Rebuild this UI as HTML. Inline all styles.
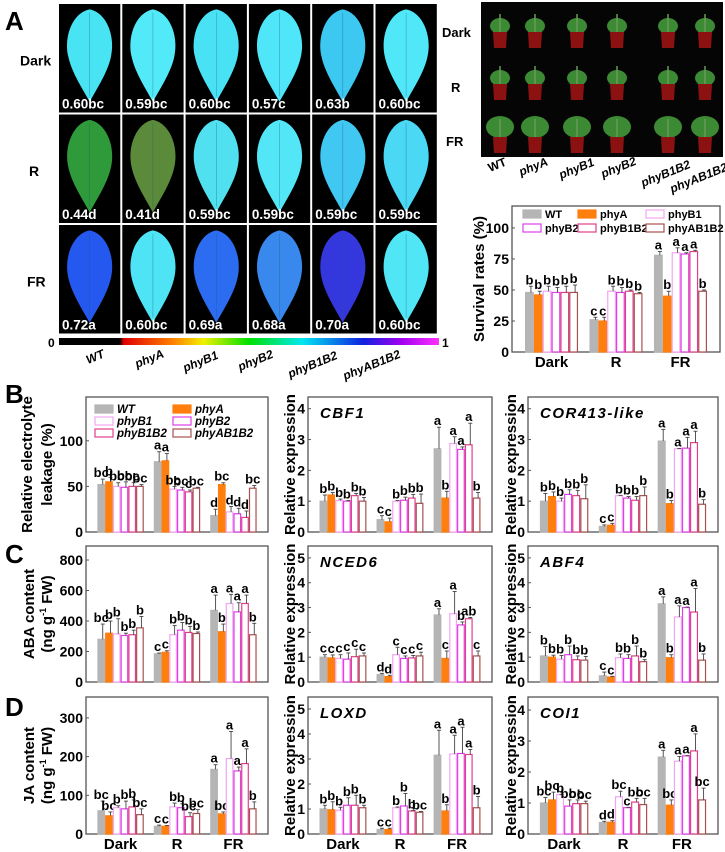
<!DOCTYPE html>
<html><head><meta charset="utf-8"><style>
html,body{margin:0;padding:0;background:#fff;}
svg{display:block;font-family:"Liberation Sans",Arial,sans-serif;}
</style></head><body>
<svg id="fig" width="725" height="852" viewBox="0 0 725 852" xmlns="http://www.w3.org/2000/svg">
<defs>
<linearGradient id="cbar" x1="0" x2="1" y1="0" y2="0">
<stop offset="0" stop-color="#000"/><stop offset="0.16" stop-color="#000"/><stop offset="0.17" stop-color="#e00000"/>
<stop offset="0.3" stop-color="#ff8000"/><stop offset="0.38" stop-color="#f0f000"/><stop offset="0.5" stop-color="#00e000"/>
<stop offset="0.64" stop-color="#00e8f0"/><stop offset="0.8" stop-color="#1020e0"/><stop offset="0.9" stop-color="#a000f0"/><stop offset="1" stop-color="#ff30ff"/>
</linearGradient>
</defs>
<g id="layer"></g>
</svg>
<script>
// ---- data ----
const genotypes = ["WT","phyA","phyB1","phyB2","phyB1B2","phyAB1B2"];
const conditions = ["Dark","R","FR"];
const fvfmLabels = [["0.60bc","0.59bc","0.60bc","0.57c","0.63b","0.60bc"],["0.44d","0.41d","0.59bc","0.59bc","0.59bc","0.59bc"],["0.72a","0.60bc","0.69a","0.68a","0.70a","0.60bc"]];
const leafColors = [["#48e4f4","#52eaf8","#48e2f4","#4ee6f8","#3cc8f0","#50e8f8"],["#2f9a3a","#5a8a3a","#50e0f0","#52e6f6","#40c8f2","#4ad8f4"],["#2458ee","#4ee4f6","#2c6cf0","#3888ee","#3438dc","#50e6f6"]];

const survVals=[[48,46,49,48,48,48],[26,25,49,48,49,47],[78,45,80,79,81,49]];
const survErr=[[5,3,4,4,5,6],[2,3,4,4,1,1],[3,4,4,1,1,1]];
const survLet=[["b","b","b","b","b","b"],["c","c","b","b","b","b"],["a","b","a","a","a","b"]];
const survTicks=[0,25,50,75,100];

const leakVals=[[52,55,50,49,50,50],[77,78,47,46,44,48],[18,52,22,20,16,48]];
const leakErr=[[6,5,4,6,4,2],[11,8,3,3,2,1],[7,2,6,6,7,3]];
const leakLet=[["bc","b","bc","bc","bc","bc"],["a","a","bc","bc","c","bc"],["d","bc","d","d","d","bc"]];
const leakTicks=[0,50,100];

const cbfVals=[[1,1.2,1.02,1,1.18,1],[0.4,0.33,1,1.03,1.1,0.93],[2.7,1.1,2.87,2.68,2.83,1.1]];
const cbfErr=[[0.2,0.08,0.05,0.02,0.07,0.12],[0.13,0.12,0.02,0.1,0.12,0.3],[0.7,0.22,0.22,0.08,0.7,0.18]];
const cbfLet=[["b","b","b","b","b","b"],["c","c","b","b","b","b"],["a","b","a","a","a","b"]];

const corVals=[[1,1.15,1,1.22,1.18,1.08],[0.18,0.22,1.18,1.1,1.03,1.18],[2.95,0.92,2.7,2.72,2.9,0.9]];
const corErr=[[0.25,0.15,0.1,0.15,0.17,0.45],[0.05,0.06,0.01,0.05,0.12,0.28],[0.38,0.1,0.01,0.35,0.37,0.15]];
const corLet=[["b","b","b","b","b","b"],["c","c","b","b","b","b"],["a","b","a","a","a","b"]];
const expr4Ticks=[0,1,2,3,4];

const abaVals=[[280,320,315,305,310,355],[185,195,310,340,325,318],[470,330,515,460,515,310]];
const abaErr=[[100,80,100,15,30,75],[5,10,60,50,40,10],[100,50,60,60,55,75]];
const abaLet=[["bc","b","b","b","b","b"],["c","c","b","b","b","b"],["a","b","a","a","a","b"]];
const abaTicks=[0,200,400,600,800];

const ncedVals=[[1,0.97,0.95,0.92,1.02,1.05],[0.3,0.22,1.1,0.95,0.97,1.05],[2.7,0.95,2.75,2.3,2.55,1.05]];
const ncedErr=[[0.1,0.12,0.15,0.25,0.3,0.12],[0.05,0.05,0.3,0.1,0.1,0.15],[0.25,0.3,0.9,0.12,0.05,0.2]];
const ncedLet=[["c","c","c","c","c","c"],["d","d","c","c","c","c"],["a","c","a","b","ab","c"]];
const expr5Ticks=[0,1,2,3,4,5];

const abfVals=[[1.05,1,0.92,1.1,0.9,0.88],[0.25,0.2,0.98,0.95,1.05,0.82],[3.15,0.98,2.62,3,2.82,0.88]];
const abfErr=[[0.38,0.08,0.15,0.35,0.15,0.15],[0.15,0.03,0.15,0.15,0.4,0.08],[0.28,0.12,0.45,0.02,0.95,0.25]];
const abfLet=[["b","b","b","b","b","b"],["c","c","b","b","b","b"],["a","b","a","a","a","b"]];

const jaVals=[[60,47,68,65,70,50],[20,20,70,68,45,53],[167,52,195,163,182,65]];
const jaErr=[[25,10,5,20,18,15],[3,2,10,10,10,10],[12,5,70,10,38,18]];
const jaLet=[["bc","bc","b","b","b","bc"],["c","c","b","b","bc","bc"],["a","bc","a","a","a","b"]];
const jaTicks=[0,100,200,300];

const loxVals=[[1,0.97,0.95,1.15,1.15,1.05],[0.18,0.18,1.05,1.12,0.92,0.87],[3.15,0.92,3.2,3.22,3.18,1.05]];
const loxErr=[[0.15,0.32,0.12,0.3,0.4,0.1],[0.05,0.05,0.03,0.5,0.02,0.03],[1,0.25,0.75,1.05,0.2,0.45]];
const loxLet=[["b","b","b","b","b","b"],["c","c","b","b","b","bc"],["a","b","a","a","a","b"]];

const coiVals=[[1,1.1,1.27,0.9,0.98,0.98],[0.37,0.38,1.2,0.85,1.03,0.95],[2.48,0.93,2.35,2.52,2.68,1.1]];
const coiErr=[[0.18,0.25,0.01,0.2,0.12,0.08],[0.04,0.05,0.18,0.01,0.12,0.2],[0.22,0.17,0.15,0.01,0.55,0.38]];
const coiLet=[["bc","bc","b","bc","bc","bc"],["d","d","bc","c","bc","bc"],["a","bc","a","a","a","bc"]];

// ---- drawing ----
const NS="http://www.w3.org/2000/svg";
const root=document.getElementById("layer");
function el(tag,attrs,parent,txt){const e=document.createElementNS(NS,tag);for(const k in attrs)e.setAttribute(k,attrs[k]);if(txt!==undefined)e.textContent=txt;(parent||root).appendChild(e);return e;}
const fills=["#b5b5b5","#ff7f0e","#fff","#fff","#fff","#fff"];
const strokes=["#b5b5b5","#ff7f0e","#f2a6f2","#e040e8","#e0408a","#a85050"];

[["A",5,30],["B",5,403],["C",5,563],["D",5,716]].forEach(p=>{const t=el("text",{x:p[1],y:p[2],"font-size":26,"font-weight":"bold"},root,p[0]);

});

const leafG=el("g",{});


const cw=63.3, rh=110.5, gx=59, gy=4;
for(let r=0;r<3;r++){
  const lbl=el("text",{x:r==0?20:(r==1?29:27),y:gy+rh*r+rh/2+6,"font-size":14,"font-weight":"bold"},leafG,conditions[r]);
  
  
  for(let c=0;c<6;c++){
    const x=gx+c*cw, y=gy+r*rh;
    const cell=el("g",{},leafG);
    
    
    el("rect",{x:x,y:y,width:cw-2,height:rh-2,fill:"#000"},cell);
    const w=cw-2,h=rh-2,lx=x,ly=y;
    const P=(a,b)=>(lx+a*w).toFixed(1)+","+(ly+b*h).toFixed(1);
    const d="M"+P(0.5,0.05)+" C"+P(0.78,0.08)+" "+P(0.92,0.3)+" "+P(0.85,0.48)+" C"+P(0.8,0.62)+" "+P(0.65,0.75)+" "+P(0.5,0.9)+" C"+P(0.35,0.75)+" "+P(0.2,0.62)+" "+P(0.15,0.48)+" C"+P(0.08,0.3)+" "+P(0.22,0.08)+" "+P(0.5,0.05)+"Z";
    el("path",{d:d,fill:leafColors[r][c]},cell);
    el("path",{d:"M"+P(0.5,0.08)+" L"+P(0.5,0.85),stroke:"#1a5a80","stroke-width":0.6,opacity:0.5},cell);
    el("text",{x:x+3,y:y+rh-6,"font-size":13.5,"font-weight":"bold",fill:"#fff"},cell,fvfmLabels[r][c]);
  }
}
const cb=el("rect",{x:59,y:338,width:380,height:7,fill:"url(#cbar)"});


el("text",{x:48,y:347,"font-size":12,"font-weight":"bold"},root,"0");
el("text",{x:442,y:347,"font-size":12,"font-weight":"bold"},root,"1");
const gl=[[88,364],[137,368],[185,372],[240,371],[290,378],[345,380]];
gl.forEach((p,i)=>{const t=el("text",{x:p[0],y:p[1],"font-size":12,"font-weight":"bold","font-style":"italic",transform:"rotate(-22 "+p[0]+" "+p[1]+")"},root,genotypes[i]);

});

const ph=el("g",{});


el("rect",{x:481,y:2,width:242,height:155,fill:"#050505"},ph);
const potX=[500,535,577,617,668,705], potY=[32,84,137];
for(let r=0;r<3;r++)for(let c=0;c<6;c++){
  const px=potX[c],py=potY[r];
  el("ellipse",{cx:px,cy:py-6-(r==2?4:0),rx:10+(r==2?4:0),ry:8+(r==2?3:0),fill:"#3d8a35"},ph);
  el("line",{x1:px,y1:py,x2:px,y2:py-18,stroke:"#6a9a5a","stroke-width":1.5},ph);
  el("path",{d:"M"+(px-7)+","+py+" L"+(px+7)+","+py+" L"+(px+6)+","+(py+16)+" L"+(px-6)+","+(py+16)+"Z",fill:"#8c1212"},ph);
}
[["Dark",442,37],["R",451,92],["FR",446,146]].forEach(p=>{const t=el("text",{x:p[1],y:p[2],"font-size":13,"font-weight":"bold"},root,p[0]);

});
const pl=[[490,172],[521,176],[561,179],[603,178],[643,187],[672,193]];
pl.forEach((p,i)=>{const t=el("text",{x:p[0],y:p[1],"font-size":12,"font-weight":"bold","font-style":i?"italic":"normal",transform:"rotate(-22 "+p[0]+" "+p[1]+")"},root,genotypes[i]);

});

function chart(name,fx0,fx1,fy0,fy1,ymax,ticks,vals,errs,lets,opt){
  const g=el("g",{});
  
  
  const W=fx1-fx0;
  const ys=v=>fy1-(v/ymax)*(fy1-fy0);
  const gw=W*0.255, bw=gw/6;
  const centers=[0.19,0.5,0.81].map(f=>fx0+W*f);
  el("rect",{x:fx0,y:fy0,width:W,height:fy1-fy0,fill:"none",stroke:"#555","stroke-width":1.3},g);
  ticks.forEach(t=>{const y=ys(t);
    el("line",{x1:fx0,y1:y,x2:fx0+3,y2:y,stroke:"#555","stroke-width":1},g);
    const tl=el("text",{x:fx0-3,y:y+5,"font-size":14,"font-weight":"bold","text-anchor":"end"},g,t);
    
    
  });
  for(let ci=0;ci<3;ci++)for(let gi=0;gi<6;gi++){
    const v=vals[ci][gi],e=errs[ci][gi];
    const x=centers[ci]-gw/2+gi*bw;
    const b=el("rect",{x:x+0.6,y:ys(v),width:bw-1.2,height:fy1-ys(v),fill:fills[gi],stroke:strokes[gi],"stroke-width":1.2},g);
    
    
    const cx=x+bw/2+1.5, ye=ys(v+e);
    el("line",{x1:cx,y1:ys(v),x2:cx,y2:ye,stroke:"#444","stroke-width":0.9},g);
    el("line",{x1:cx-2,y1:ye,x2:cx+2,y2:ye,stroke:"#444","stroke-width":0.9},g);
    el("text",{x:x+bw/2,y:ye-2,"font-size":opt.lf||13,"font-weight":"bold","text-anchor":"middle"},g,lets[ci][gi]);
  }
  if(opt.xlab){conditions.forEach((c,i)=>{const t=el("text",{x:centers[i],y:fy1+15,"font-size":15,"font-weight":"bold","text-anchor":"middle"},g,c);
    
    });}
  if(opt.gene){const t=el("text",{x:fx0+12,y:fy0+21,"font-size":15,"font-weight":"bold","font-style":"italic","letter-spacing":"1.5"},g,opt.gene);
    
    }
  if(opt.ylab){opt.ylab.forEach((s,i)=>{const x=opt.ylx[i], y=(fy0+fy1)/2;
    const t=el("text",{x:x,y:y,"font-size":opt.ylf||15,"font-weight":"bold","text-anchor":"middle",transform:"rotate(-90 "+x+" "+y+")"},g);
    t.innerHTML=s;
    
    });}
  return g;
}
chart("survival",512,720,206,352,117.7,survTicks,survVals,survErr,survLet,{xlab:true,ylab:["Survival rates (%)"],ylx:[484],lf:13});
chart("electrolyte-leakage",86,268,397,532,148,leakTicks,leakVals,leakErr,leakLet,{ylab:["Relative electrolyte","leakage (%)"],ylx:[32,52],lf:13});
chart("cbf1",308,492,397,532,4.38,expr4Ticks,cbfVals,cbfErr,cbfLet,{gene:"CBF1",ylab:["Relative expression"],ylx:[295],lf:13});
chart("cor413",528,718,397,532,4.38,expr4Ticks,corVals,corErr,corLet,{gene:"COR413-like",ylab:["Relative expression"],ylx:[516],lf:13});
chart("aba",86,268,546,682,892,abaTicks,abaVals,abaErr,abaLet,{ylab:["ABA content","(ng g<tspan font-size='9' dy='-6'>-1</tspan><tspan dy='6'> FW)</tspan>"],ylx:[34,52],lf:13});
chart("nced6",308,492,546,682,5.48,expr5Ticks,ncedVals,ncedErr,ncedLet,{gene:"NCED6",ylab:["Relative expression"],ylx:[295],lf:13});
chart("abf4",528,718,546,682,5.48,expr5Ticks,abfVals,abfErr,abfLet,{gene:"ABF4",ylab:["Relative expression"],ylx:[516],lf:13});
chart("ja",86,268,697,834,354,jaTicks,jaVals,jaErr,jaLet,{xlab:true,ylab:["JA content","(ng g<tspan font-size='9' dy='-6'>-1</tspan><tspan dy='6'> FW)</tspan>"],ylx:[34,52],lf:13});
chart("loxd",308,492,697,834,5.48,expr5Ticks,loxVals,loxErr,loxLet,{xlab:true,gene:"LOXD",ylab:["Relative expression"],ylx:[295],lf:13});
chart("coi1",528,718,697,834,4.42,expr4Ticks,coiVals,coiErr,coiLet,{xlab:true,gene:"COI1",ylab:["Relative expression"],ylx:[516],lf:13});

function legend(name,items,italic,fs){
  const g=el("g",{});
  
  
  items.forEach(it=>{const i=it[0];
    el("rect",{x:it[1],y:it[2]-8,width:18,height:8,fill:fills[i],stroke:strokes[i],"stroke-width":1.2},g);
    const t=el("text",{x:it[1]+22,y:it[2],"font-size":fs,"font-weight":"bold","font-style":italic?"italic":"normal"},g,genotypes[i]);
    
    
  });
}
legend("leakage-legend",[[0,95,413],[1,173,413],[2,95,425],[3,173,425],[4,95,437],[5,173,437]],true,11.5);
legend("survival-legend",[[0,523,218],[1,578,218],[2,646,218],[3,523,232],[4,578,232],[5,646,232]],false,11);
</script>
</body></html>
